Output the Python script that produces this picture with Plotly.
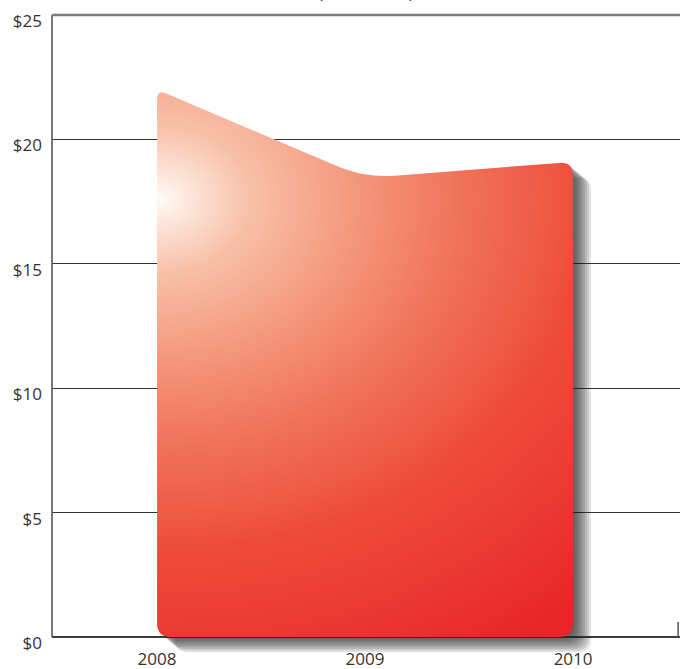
import numpy as np
import plotly.graph_objects as go

# ---------------- data ----------------
years = [2008, 2009, 2010]
values = [22.0, 18.45, 19.1]
y_tick_vals = [0, 5, 10, 15, 20, 25]
y_tick_text = ["$0", "$5", "$10", "$15", "$20", "$25"]
x_tick_text = ["2008", "2009", "2010"]
title_text = "(in millions)"

# ---------------- layout constants ----------------
W, H = 682, 669
M_L, M_R, M_T, M_B = 52, 2, 5, 14
X_RANGE = [2007.495, 2010.514]
Y_MAX = 25
ZERO_PAD_PX = 18                      # room below the $0 line for the drop shadow
TOP_PAD_PX = 10                       # room above the $25 line for its label
plot_w = W - M_L - M_R
plot_h = H - M_T - M_B
sy = (plot_h - ZERO_PAD_PX - TOP_PAD_PX) / Y_MAX   # px per $
sx = plot_w / (X_RANGE[1] - X_RANGE[0])           # px per year
Y_RANGE = [-ZERO_PAD_PX / sy, Y_MAX + TOP_PAD_PX / sy]
top_paper = (Y_MAX - Y_RANGE[0]) / (Y_RANGE[1] - Y_RANGE[0])
zero_paper = (0 - Y_RANGE[0]) / (Y_RANGE[1] - Y_RANGE[0])

FONT = "Open Sans"
TXT = "#333333"
FS = 17


def rounded(pts, radii, n=12):
    """Round polygon corners (pixel space) with quadratic beziers."""
    pts = [np.array(p, float) for p in pts]
    m = len(pts)
    out = []
    for i in range(m):
        p, a, b = pts[i], pts[i - 1], pts[(i + 1) % m]
        va, vb = a - p, b - p
        la, lb = np.linalg.norm(va), np.linalg.norm(vb)
        t = min(radii[i], la / 2, lb / 2)
        p1, p2 = p + va / la * t, p + vb / lb * t
        for s in np.linspace(0, 1, n):
            out.append((1 - s) ** 2 * p1 + 2 * (1 - s) * s * p + s ** 2 * p2)
    return np.array(out)


# polygon vertices in pixel space (x right, y up), derived from the data
verts_px = [((years[0] - X_RANGE[0]) * sx, 0.0)]
for yr, v in zip(years, values):
    verts_px.append(((yr - X_RANGE[0]) * sx, v * sy))
verts_px.append(((years[-1] - X_RANGE[0]) * sx, 0.0))
radii = [14, 10] + [30] * (len(years) - 2) + [14, 14]
poly = rounded(verts_px, radii)
px_x = poly[:, 0] / sx + X_RANGE[0]
px_y = poly[:, 1] / sy

fig = go.Figure()

# ---- drop shadow (stacked offset copies) ----
for k in range(1, 10):
    ox, oy = 2.0 * k, 1.7 * k
    fig.add_trace(go.Scatter(
        x=list(px_x + ox / sx) + [px_x[0] + ox / sx],
        y=list(px_y - oy / sy) + [px_y[0] - oy / sy],
        mode="none", fill="toself", fillcolor="rgba(30,30,30,0.12)",
        hoverinfo="skip", showlegend=False))

# ---- main area with radial gradient centred near the top-left ----
gx = years[0] + 3 / sx
gy = 0.8 * values[0]
rx, ry = 640 / sx, 525 / sy
last_x, last_y = px_x[-1], px_y[-1]
main_x = list(px_x) + [gx - rx, last_x, gx + rx, last_x]
main_y = list(px_y) + [gy + ry, last_y, gy - ry, last_y]
fig.add_trace(go.Scatter(
    x=main_x, y=main_y, mode="none", fill="toself",
    line=dict(simplify=False),
    fillgradient=dict(type="radial", colorscale=[
        [0.0, "#fffaf7"], [0.05, "#fde4d9"], [0.14, "#f8c0a8"],
        [0.32, "#f49478"], [0.48, "#f07058"], [0.60, "#ef5a46"],
        [0.67, "#ee4b3a"], [0.85, "#eb3833"], [1.0, "#e8262a"]]),
    hoverinfo="skip", showlegend=False))

fig.update_layout(
    width=W, height=H,
    margin=dict(l=M_L, r=M_R, t=M_T, b=M_B, pad=0),
    paper_bgcolor="white", plot_bgcolor="white",
    font=dict(family=FONT, size=FS, color=TXT),
    showlegend=False,
    xaxis=dict(range=X_RANGE, tickvals=years, ticktext=x_tick_text,
               showgrid=False, zeroline=False, showline=False, ticks="",
               automargin=False, ticklabelstandoff=-8, ticklabeloverflow="allow",
               tickfont=dict(size=FS, color=TXT)),
    yaxis=dict(range=Y_RANGE, tickvals=y_tick_vals, ticktext=y_tick_text,
               showgrid=True, gridcolor="#333333", gridwidth=1.2,
               zeroline=True, zerolinecolor="#3c3c3c", zerolinewidth=1.6,
               showline=False, ticks="", automargin=False,
               ticklabelstandoff=9, ticklabelshift=6, ticklabeloverflow="allow",
               tickfont=dict(size=FS, color=TXT)),
    shapes=[
        dict(type="line", xref="paper", yref="paper", x0=0, x1=0,
             y0=zero_paper, y1=top_paper,
             line=dict(color="#555555", width=1.6), layer="above"),
        dict(type="line", xref="paper", yref="paper", x0=0, x1=1,
             y0=top_paper, y1=top_paper,
             line=dict(color="#7a7a7a", width=2.5), layer="above"),
        dict(type="line", xref="paper", yref="y", x0=0.997, x1=0.997, y0=0, y1=0.6,
             line=dict(color="#555555", width=1.5), layer="above"),
    ],
    annotations=[dict(text=title_text, xref="paper", yref="paper",
                      x=0.5, y=top_paper, yanchor="bottom", yshift=10, showarrow=False,
                      font=dict(family=FONT, size=18, color=TXT))],
)

fig.write_html("out.html")
